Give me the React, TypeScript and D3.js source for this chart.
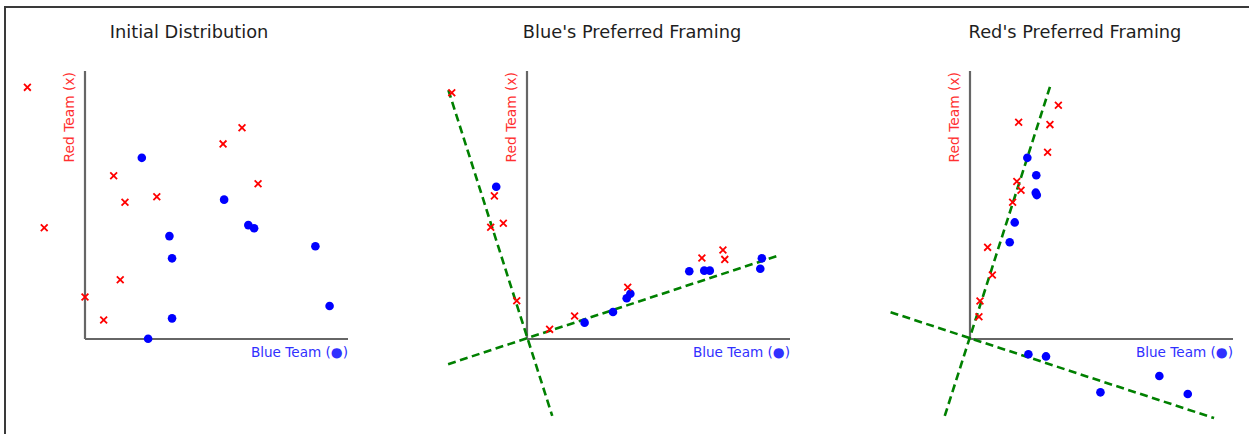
import React from "react";
import * as d3 from "d3";

type P = [number, number];

const titles = ["Initial Distribution", "Blue's Preferred Framing", "Red's Preferred Framing"];
const xLabel = "Blue Team (●)";
const yLabel = "Red Team (x)";

const initialRed: P[] = [
  [-2.19, 9.39], [-1.55, 4.15], [1.09, 6.09], [1.52, 5.1], [2.73, 5.31], [5.25, 7.28],
  [5.97, 7.88], [6.58, 5.79], [1.34, 2.21], [0.0, 1.57], [0.71, 0.71],
];
const initialBlue: P[] = [
  [2.16, 6.76], [5.29, 5.2], [6.21, 4.25], [6.43, 4.13], [3.21, 3.84], [3.31, 3.01],
  [8.76, 3.46], [9.3, 1.23], [3.31, 0.77], [2.4, 0.01],
];

const blueFrameRed: P[] = [
  [-2.86, 9.19], [-1.24, 5.34], [-1.38, 4.17], [-0.9, 4.32], [-0.39, 1.43], [0.86, 0.36],
  [1.81, 0.86], [3.83, 1.93], [6.65, 3.02], [7.45, 3.32], [7.52, 2.97],
];
const blueFrameBlue: P[] = [
  [-1.17, 5.68], [2.19, 0.61], [3.27, 1.01], [3.79, 1.52], [3.93, 1.69], [6.17, 2.53],
  [6.74, 2.55], [6.95, 2.55], [8.93, 3.01], [8.87, 2.62],
];
const blueFrameLines: [P, P][] = [
  [[-3.0, -0.94], [9.55, 3.11]],
  [[-2.99, 9.29], [0.96, -2.87]],
];

const redFrameRed: P[] = [
  [3.36, 8.72], [1.85, 8.09], [3.04, 8.0], [2.95, 6.97], [1.78, 5.88], [1.94, 5.55],
  [1.62, 5.1], [0.67, 3.42], [0.85, 2.39], [0.38, 1.42], [0.34, 0.83],
];
const redFrameBlue: P[] = [
  [2.18, 6.76], [2.52, 6.11], [2.5, 5.46], [2.54, 5.37], [1.7, 4.35], [1.51, 3.61],
  [2.22, -0.57], [2.89, -0.65], [7.2, -1.38], [4.96, -1.99], [8.28, -2.05],
];
const redFrameLines: [P, P][] = [
  [[-0.96, -2.87], [3.07, 9.5]],
  [[-3.02, 1.0], [9.28, -2.95]],
];

const panels = [
  { red: initialRed, blue: initialBlue, lines: [] as [P, P][] },
  { red: blueFrameRed, blue: blueFrameBlue, lines: blueFrameLines },
  { red: redFrameRed, blue: redFrameBlue, lines: redFrameLines },
];

const W = 1249;
const H = 434;
const originsX = [85, 527, 970];
const titleCenters = [189, 632, 1075];
const axisBottom = 339;
const axisTop = 71;
const axisLen = 263;

function Panel({ i }: { i: number }) {
  const ox = originsX[i];
  const x = d3.scaleLinear().domain([0, 10]).range([ox, ox + axisLen]);
  const y = d3.scaleLinear().domain([0, 10]).range([axisBottom, axisTop]);
  const p = panels[i];
  const line = d3
    .line<P>()
    .x((d) => x(d[0]))
    .y((d) => y(d[1]));
  const s = 3.4;
  return (
    <g>
      <text
        x={titleCenters[i]}
        y={38}
        textAnchor="middle"
        fontFamily="DejaVu Sans"
        fontSize={17.8}
        fill="#1e1e1e"
      >
        {titles[i]}
      </text>
      <line x1={x(0)} y1={y(0)} x2={x(10)} y2={y(0)} stroke="#666" strokeWidth={2.2} />
      <line x1={x(0)} y1={y(0)} x2={x(0)} y2={y(10)} stroke="#666" strokeWidth={2.2} />
      <text
        transform={`translate(${ox - 11},${axisTop + 1}) rotate(-90)`}
        textAnchor="end"
        fontFamily="DejaVu Sans"
        fontSize={13.8}
        fill="#ff3030"
      >
        {yLabel}
      </text>
      <text
        x={x(10)}
        y={axisBottom + 18}
        textAnchor="end"
        fontFamily="DejaVu Sans"
        fontSize={13.6}
        fill="#3030ff"
      >
        {xLabel}
      </text>
      {p.lines.map((l, k) => (
        <path
          key={"l" + k}
          d={line(l) || ""}
          stroke="#008000"
          strokeWidth={2.6}
          strokeDasharray="8,4.5"
          fill="none"
        />
      ))}
      {p.blue.map((d, k) => (
        <circle key={"b" + k} cx={x(d[0])} cy={y(d[1])} r={4.3} fill="#0000ff" />
      ))}
      {p.red.map((d, k) => {
        const cx = x(d[0]);
        const cy = y(d[1]);
        return (
          <path
            key={"r" + k}
            d={`M${cx - s},${cy - s}L${cx + s},${cy + s}M${cx - s},${cy + s}L${cx + s},${cy - s}`}
            stroke="#ff0000"
            strokeWidth={1.8}
            fill="none"
          />
        );
      })}
    </g>
  );
}

export default function App() {
  return (
    <svg
      width={W}
      height={H}
      style={{ position: "absolute", left: 0, top: 0, background: "#fff" }}
    >
      <rect x={0} y={0} width={W} height={H} fill="#fff" />
      <line x1={4} y1={7} x2={W} y2={7} stroke="#3a3a3a" strokeWidth={2} />
      <line x1={5} y1={6} x2={5} y2={H} stroke="#3a3a3a" strokeWidth={2} />
      {[0, 1, 2].map((i) => (
        <Panel key={i} i={i} />
      ))}
    </svg>
  );
}
